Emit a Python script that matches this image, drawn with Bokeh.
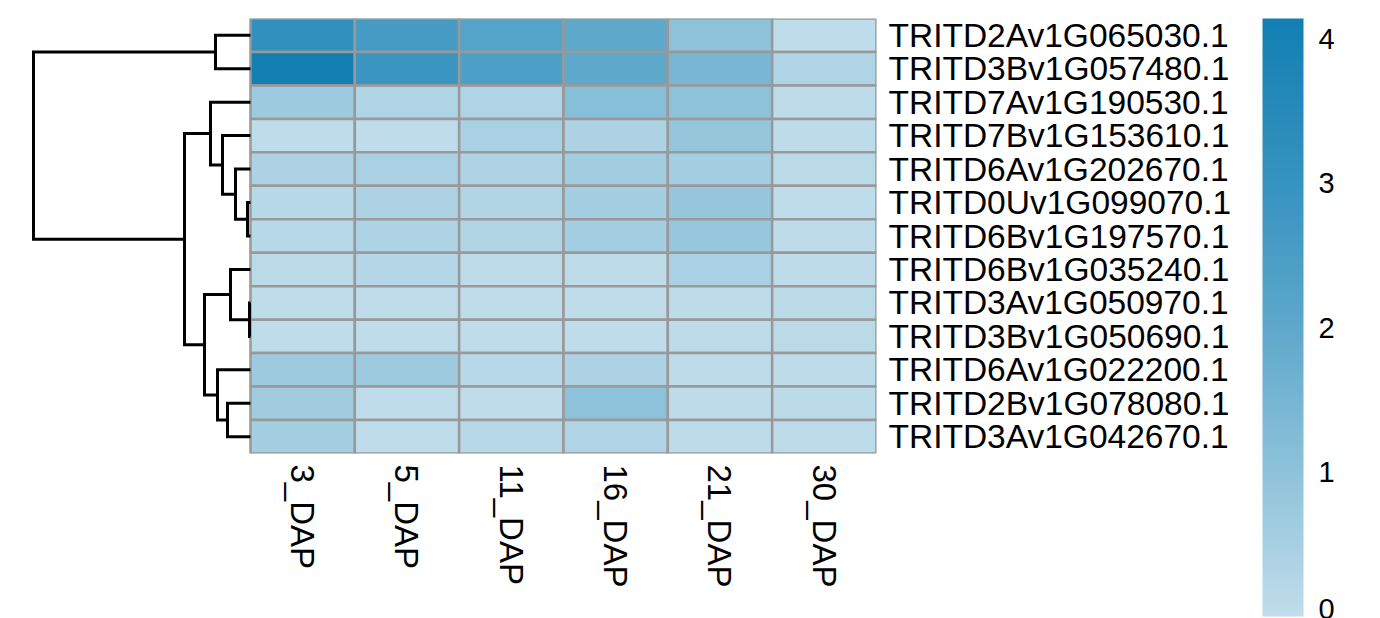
import math
import numpy as np
from bokeh.plotting import figure
from bokeh.models import Range1d, FixedTicker, LinearColorMapper, ColumnDataSource, ColorBar
from bokeh.embed import file_html
from bokeh.resources import INLINE

# ---------------- data ----------------
genes = [
    "TRITD2Av1G065030.1", "TRITD3Bv1G057480.1", "TRITD7Av1G190530.1",
    "TRITD7Bv1G153610.1", "TRITD6Av1G202670.1", "TRITD0Uv1G099070.1",
    "TRITD6Bv1G197570.1", "TRITD6Bv1G035240.1", "TRITD3Av1G050970.1",
    "TRITD3Bv1G050690.1", "TRITD6Av1G022200.1", "TRITD2Bv1G078080.1",
    "TRITD3Av1G042670.1",
]
stages = ["3_DAP", "5_DAP", "11_DAP", "16_DAP", "21_DAP", "30_DAP"]

expr_TRITD2Av1G065030 = [3.15, 2.60, 2.25, 2.00, 1.00, 0.05]
expr_TRITD3Bv1G057480 = [4.14, 2.90, 2.45, 2.00, 1.45, 0.35]
expr_TRITD7Av1G190530 = [0.70, 0.35, 0.35, 1.15, 1.00, 0.07]
expr_TRITD7Bv1G153610 = [0.05, 0.05, 0.45, 0.40, 0.85, 0.08]
expr_TRITD6Av1G202670 = [0.42, 0.45, 0.38, 0.60, 0.55, 0.12]
expr_TRITD0Uv1G099070 = [0.18, 0.40, 0.32, 0.55, 0.85, 0.05]
expr_TRITD6Bv1G197570 = [0.18, 0.38, 0.32, 0.55, 0.83, 0.08]
expr_TRITD6Bv1G035240 = [0.12, 0.22, 0.08, 0.08, 0.45, 0.08]
expr_TRITD3Av1G050970 = [0.05, 0.06, 0.05, 0.05, 0.08, 0.10]
expr_TRITD3Bv1G050690 = [0.05, 0.06, 0.06, 0.05, 0.08, 0.10]
expr_TRITD6Av1G022200 = [0.70, 0.70, 0.18, 0.42, 0.08, 0.08]
expr_TRITD2Bv1G078080 = [0.62, 0.05, 0.05, 1.00, 0.07, 0.09]
expr_TRITD3Av1G042670 = [0.55, 0.05, 0.18, 0.35, 0.08, 0.08]

expr_rows = [
    expr_TRITD2Av1G065030, expr_TRITD3Bv1G057480, expr_TRITD7Av1G190530,
    expr_TRITD7Bv1G153610, expr_TRITD6Av1G202670, expr_TRITD0Uv1G099070,
    expr_TRITD6Bv1G197570, expr_TRITD6Bv1G035240, expr_TRITD3Av1G050970,
    expr_TRITD3Bv1G050690, expr_TRITD6Av1G022200, expr_TRITD2Bv1G078080,
    expr_TRITD3Av1G042670,
]

# row dendrogram (hclust style: leaves 0..12, merged nodes 13..)
merge_left   = [5,  4,    3,    2,    8,    7,    11,   10,   18,   16,   0,    23]
merge_right  = [6,  13,   14,   15,   9,    17,   12,   19,   20,   21,   1,    22]
merge_height = [0.09, 0.45, 0.84, 1.20, 0.03, 0.60, 0.69, 0.99, 1.38, 1.98, 1.05, 6.51]

legend_ticks = [0, 1, 2, 3, 4]
value_max = 4.14

# ---------------- colours ----------------
stop_vals = [0.0, 1.0, 2.0, 3.0, 4.14]
stop_cols = ["#C0DDEA", "#8EC2DA", "#5EA8CB", "#3693C0", "#137FB2"]

def hex2rgb(h):
    return tuple(int(h[i:i + 2], 16) for i in (1, 3, 5))

pal = []
for t in np.linspace(0, value_max, 256):
    rgb = [np.interp(t, stop_vals, [hex2rgb(c)[k] for c in stop_cols]) for k in range(3)]
    pal.append("#%02x%02x%02x" % tuple(int(round(v)) for v in rgb))
mapper = LinearColorMapper(palette=pal, low=0, high=value_max)

FONT = "Liberation Sans"

# ---------------- figure ----------------
n_rows, n_cols = len(genes), len(stages)
p = figure(width=1370, height=618, output_backend="svg", toolbar_location=None,
           x_range=Range1d(-2.396, n_cols), y_range=Range1d(n_rows, 0),
           x_axis_location="below", y_axis_location="right",
           min_border_left=0, min_border_right=494, min_border_top=18,
           min_border_bottom=165)
p.outline_line_color = None
p.grid.visible = False
p.background_fill_color = "white"
p.border_fill_color = "white"

xs, ys, vals = [], [], []
for i, r in enumerate(expr_rows):
    for j, v in enumerate(r):
        xs.append(j + 0.5)
        ys.append(i + 0.5)
        vals.append(v)
src = ColumnDataSource(dict(x=xs, y=ys, v=vals))
p.rect("x", "y", width=1, height=1, source=src,
       fill_color={"field": "v", "transform": mapper},
       line_color="#999999", line_width=2.5)

# dendrogram
root_extent = 2.08
scale = root_extent / max(merge_height)
node_y = {i: i + 0.5 for i in range(n_rows)}
node_h = {i: 0.0 for i in range(n_rows)}
dx, dy = [], []
for k, (a, b, h) in enumerate(zip(merge_left, merge_right, merge_height)):
    nid = n_rows + k
    node_y[nid] = (node_y[a] + node_y[b]) / 2
    node_h[nid] = h
    dx.append([-node_h[a] * scale, -h * scale, -h * scale, -node_h[b] * scale])
    dy.append([node_y[a], node_y[a], node_y[b], node_y[b]])
p.multi_line(dx, dy, line_color="black", line_width=3, line_join="miter")

ya = p.yaxis[0]
ya.ticker = FixedTicker(ticks=[i + 0.5 for i in range(n_rows)])
ya.major_label_overrides = {i + 0.5: g for i, g in enumerate(genes)}
ya.axis_line_color = None
ya.major_tick_line_color = None
ya.minor_tick_line_color = None
ya.major_tick_out = 0
ya.major_tick_in = 0
ya.major_label_standoff = 12
ya.major_label_text_font = FONT
ya.major_label_text_font_size = "33.5px"
ya.major_label_text_color = "black"

xa = p.xaxis[0]
xa.ticker = FixedTicker(ticks=[j + 0.5 for j in range(n_cols)])
xa.major_label_overrides = {j + 0.5: s for j, s in enumerate(stages)}
xa.axis_line_color = None
xa.major_tick_line_color = None
xa.minor_tick_line_color = None
xa.major_tick_out = 0
xa.major_tick_in = 0
xa.major_label_standoff = 11
xa.major_label_orientation = -math.pi / 2
xa.major_label_text_font = FONT
xa.major_label_text_font_size = "33px"
xa.major_label_text_color = "black"

# ---------------- colour legend ----------------
cb = ColorBar(color_mapper=mapper, ticker=FixedTicker(ticks=legend_ticks),
              width=41, height=598, location=(1262, -163),
              padding=0, margin=0, label_standoff=15,
              major_tick_in=0, major_tick_out=0, major_tick_line_color=None,
              minor_tick_line_color=None, bar_line_color=None,
              border_line_color=None, background_fill_color=None,
              major_label_text_font=FONT, major_label_text_font_size="29px",
              major_label_text_color="black")
p.add_layout(cb, "center")

open("out.html", "w").write(file_html(p, INLINE))
